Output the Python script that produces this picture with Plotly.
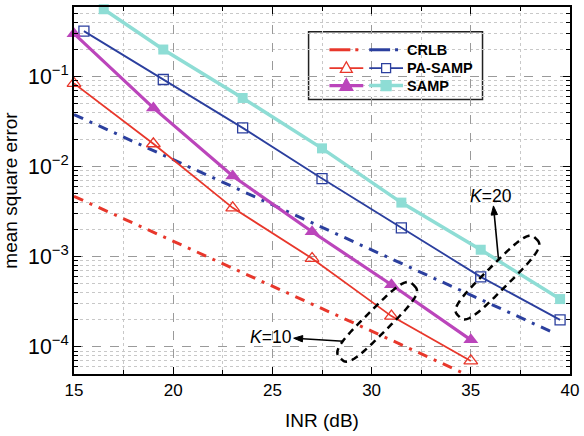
import numpy as np
import plotly.graph_objects as go

# ---------------- data ----------------
x_crlb_k10 = [15, 20, 25, 30, 35]
crlb_k10 = [4.7e-3, 1.5e-3, 4.7e-4, 1.5e-4, 4.7e-5]
x_crlb_k20 = [15, 20, 25, 30, 35, 39]
crlb_k20 = [0.038, 0.012, 0.0038, 0.0012, 3.8e-4, 1.5e-4]
x_pasamp_k10 = [15, 19, 23, 27, 31, 35]
pasamp_k10 = [0.084, 0.018, 0.0035, 9.6e-4, 2.2e-4, 7.0e-5]
x_pasamp_k20 = [15.5, 19.5, 23.5, 27.5, 31.5, 35.5, 39.5]
pasamp_k20 = [0.32, 0.093, 0.027, 0.0074, 0.0021, 6.0e-4, 2.0e-4]
x_samp_k10 = [15, 19, 23, 27, 31, 35]
samp_k10 = [0.30, 0.045, 0.0079, 0.0019, 4.9e-4, 1.2e-4]
x_samp_k20 = [16.5, 19.5, 23.5, 27.5, 31.5, 35.5, 39.5]
samp_k20 = [0.56, 0.20, 0.058, 0.016, 0.0040, 0.0012, 3.4e-4]

legend_labels = ["CRLB", "PA-SAMP", "SAMP"]

RED = "#E8372B"
BLUE = "#2B3F9E"
MAG = "#BB45BB"
CYAN = "#8EDDD5"
FONT = "Arial, Liberation Sans, sans-serif"

W, H = 584, 436
L, R, T, B = 71, 14, 5, 62
PW, PH = W - L - R, H - T - B


def px2paper(px, py):
    return (px - L) / PW, (H - B - py) / PH


def poly_path(pts_px):
    pts = [px2paper(x, y) for x, y in pts_px]
    return "M " + " L ".join(f"{p[0]:.5f},{p[1]:.5f}" for p in pts) + " Z"


fig = go.Figure()

dashdot = "10px,7px,3px,7px"
fig.add_trace(go.Scatter(x=x_crlb_k10, y=crlb_k10, mode="lines", name="CRLB K=10",
                         line=dict(color=RED, width=3, dash=dashdot)))
fig.add_trace(go.Scatter(x=x_crlb_k20, y=crlb_k20, mode="lines", name="CRLB K=20",
                         line=dict(color=BLUE, width=3, dash=dashdot)))
fig.add_trace(go.Scatter(x=x_pasamp_k10, y=pasamp_k10, mode="lines+markers", name="PA-SAMP K=10",
                         line=dict(color=RED, width=1.8),
                         marker=dict(symbol="triangle-up-open", size=12, color=RED,
                                     line=dict(width=1.3)), cliponaxis=False))
fig.add_trace(go.Scatter(x=x_pasamp_k20, y=pasamp_k20, mode="lines+markers", name="PA-SAMP K=20",
                         line=dict(color=BLUE, width=1.8),
                         marker=dict(symbol="square-open", size=10, color=BLUE,
                                     line=dict(width=1.3)), cliponaxis=False))
fig.add_trace(go.Scatter(x=x_samp_k10, y=samp_k10, mode="lines+markers", name="SAMP K=10",
                         line=dict(color=MAG, width=3.2),
                         marker=dict(symbol="triangle-up", size=13, color=MAG),
                         cliponaxis=False))
fig.add_trace(go.Scatter(x=x_samp_k20, y=samp_k20, mode="lines+markers", name="SAMP K=20",
                         line=dict(color=CYAN, width=3.5),
                         marker=dict(symbol="square", size=10, color=CYAN),
                         cliponaxis=False))

# ---------------- custom legend drawn with shapes ----------------
bx0, by0 = px2paper(307, 98)
bx1, by1 = px2paper(482, 30)
shapes = [dict(type="rect", xref="paper", yref="paper", x0=bx0, y0=by0, x1=bx1, y1=by1,
               line=dict(color="#222", width=1.5), fillcolor="white", layer="between")]

rows_py = [48, 66.5, 84]
red_seg = (328, 362)
blue_seg = (368, 402)


def seg(x0, x1, y, color, width, dash="solid"):
    a0, b0 = px2paper(x0, y)
    a1, _ = px2paper(x1, y)
    return dict(type="line", xref="paper", yref="paper", x0=a0, y0=b0, x1=a1, y1=b0,
                line=dict(color=color, width=width, dash=dash))


def tri(cx, cy, size, color, filled):
    h = size * 0.9
    pts = [(cx, cy - h * 0.6), (cx - size / 2, cy + h * 0.4), (cx + size / 2, cy + h * 0.4)]
    d = dict(type="path", xref="paper", yref="paper", path=poly_path(pts),
             line=dict(color=color, width=1.3))
    d["fillcolor"] = color if filled else "white"
    return d


def sq(cx, cy, size, color, filled):
    s = size / 2
    pts = [(cx - s, cy - s), (cx + s, cy - s), (cx + s, cy + s), (cx - s, cy + s)]
    d = dict(type="path", xref="paper", yref="paper", path=poly_path(pts),
             line=dict(color=color, width=1.3))
    d["fillcolor"] = color if filled else "white"
    return d


rmid = sum(red_seg) / 2
bmid = sum(blue_seg) / 2
# row 1: CRLB (dash-dot)
shapes.append(seg(red_seg[0], red_seg[0] + 21, rows_py[0], RED, 3))
shapes.append(seg(red_seg[0] + 26, red_seg[0] + 29, rows_py[0], RED, 3))
shapes.append(seg(blue_seg[0], blue_seg[0] + 21, rows_py[0], BLUE, 3))
shapes.append(seg(blue_seg[0] + 26, blue_seg[0] + 29, rows_py[0], BLUE, 3))
# row 2: PA-SAMP
shapes.append(seg(*red_seg, rows_py[1], RED, 1.8))
shapes.append(tri(rmid, rows_py[1], 12, RED, False))
shapes.append(seg(*blue_seg, rows_py[1], BLUE, 1.8))
shapes.append(sq(bmid, rows_py[1], 9, BLUE, False))
# row 3: SAMP
shapes.append(seg(*red_seg, rows_py[2], MAG, 3.2))
shapes.append(tri(rmid, rows_py[2], 13, MAG, True))
shapes.append(seg(*blue_seg, rows_py[2], CYAN, 3.5))
shapes.append(sq(bmid, rows_py[2], 10, CYAN, True))

for py, lab in zip(rows_py, legend_labels):
    tx, ty = px2paper(404, py)
    fig.add_annotation(x=tx, y=ty, xref="paper", yref="paper", text=f"<b>{lab}</b>",
                       showarrow=False, xanchor="left", yanchor="middle",
                       font=dict(family=FONT, size=14.5, color="black"))


# ---------------- dashed superellipses ----------------
def blob(cx, cy, a, b, ang_deg, n=3.5, npts=160):
    t = np.linspace(0, 2 * np.pi, npts, endpoint=False)
    c, s = np.cos(t), np.sin(t)
    u = a * np.sign(c) * np.abs(c) ** (2 / n)
    v = b * np.sign(s) * np.abs(s) ** (2 / n)
    th = np.radians(ang_deg)
    X = cx + u * np.cos(th) + v * np.sin(th)
    Y = cy - u * np.sin(th) + v * np.cos(th)
    return poly_path(list(zip(X, Y)))


for (cx, cy, a, b) in [(497, 277, 55, 12), (376, 321.5, 52, 12)]:
    shapes.append(dict(type="path", xref="paper", yref="paper", path=blob(cx, cy, a, b, 45),
                       line=dict(color="black", width=2.5, dash="7px,5px")))


# ---------------- arrows (line + filled head) ----------------
def arrow(tail, head, hl=9, hw=3.2):
    (x0, y0), (x1, y1) = tail, head
    d = np.array([x1 - x0, y1 - y0], float)
    d /= np.linalg.norm(d)
    nrm = np.array([-d[1], d[0]])
    base = np.array([x1, y1]) - d * hl
    p1 = base + nrm * hw
    p2 = base - nrm * hw
    a0, b0 = px2paper(x0, y0)
    a1, b1 = px2paper(*base)
    line = dict(type="line", xref="paper", yref="paper", x0=a0, y0=b0, x1=a1, y1=b1,
                line=dict(color="black", width=1.6))
    head_shape = dict(type="path", xref="paper", yref="paper",
                      path=poly_path([(x1, y1), tuple(p1), tuple(p2)]),
                      fillcolor="black", line=dict(color="black", width=1))
    return [line, head_shape]


shapes += arrow((498, 258), (493, 205))
shapes += arrow((342, 341), (292, 338))

for (tx, ty, txt) in [(490.5, 195, "<i>K</i>=20"), (269, 336.5, "<i>K</i>=10")]:
    px_, py_ = px2paper(tx, ty)
    fig.add_annotation(x=px_, y=py_, xref="paper", yref="paper", text=txt, showarrow=False,
                       xanchor="center", yanchor="middle",
                       font=dict(family=FONT, size=17.5, color="black"))

axis_common = dict(showline=True, linecolor="black", linewidth=1.8, mirror="ticks",
                   ticks="inside", tickcolor="black", tickwidth=1.2, ticklen=7,
                   zeroline=False, tickfont=dict(family=FONT, size=17, color="black"),
                   showgrid=True, gridcolor="#9a9a9a", gridwidth=1, griddash="dash")

fig.update_layout(
    width=W, height=H, autosize=False,
    margin=dict(l=L, r=R, t=T, b=B),
    paper_bgcolor="white", plot_bgcolor="white",
    showlegend=False,
    shapes=shapes,
    xaxis=dict(range=[15, 40], dtick=5, tick0=15,
               title=dict(text="INR (dB)", font=dict(family=FONT, size=19, color="black"), standoff=14),
               minor=dict(dtick=2.5, tick0=15, ticks="inside", ticklen=4, tickcolor="black",
                          showgrid=True, gridcolor="#c8c8c8", griddash="dot", gridwidth=1),
               **axis_common),
    yaxis=dict(type="log", range=[-4.30, -0.227], dtick=1, exponentformat="power",
               showexponent="all",
               title=dict(text="mean square error", font=dict(family=FONT, size=19, color="black"), standoff=10),
               minor=dict(dtick="D1", ticks="inside", ticklen=4, tickcolor="black",
                          showgrid=True, gridcolor="#c8c8c8", griddash="dot", gridwidth=1),
               **axis_common),
)

fig.write_html("out.html")
